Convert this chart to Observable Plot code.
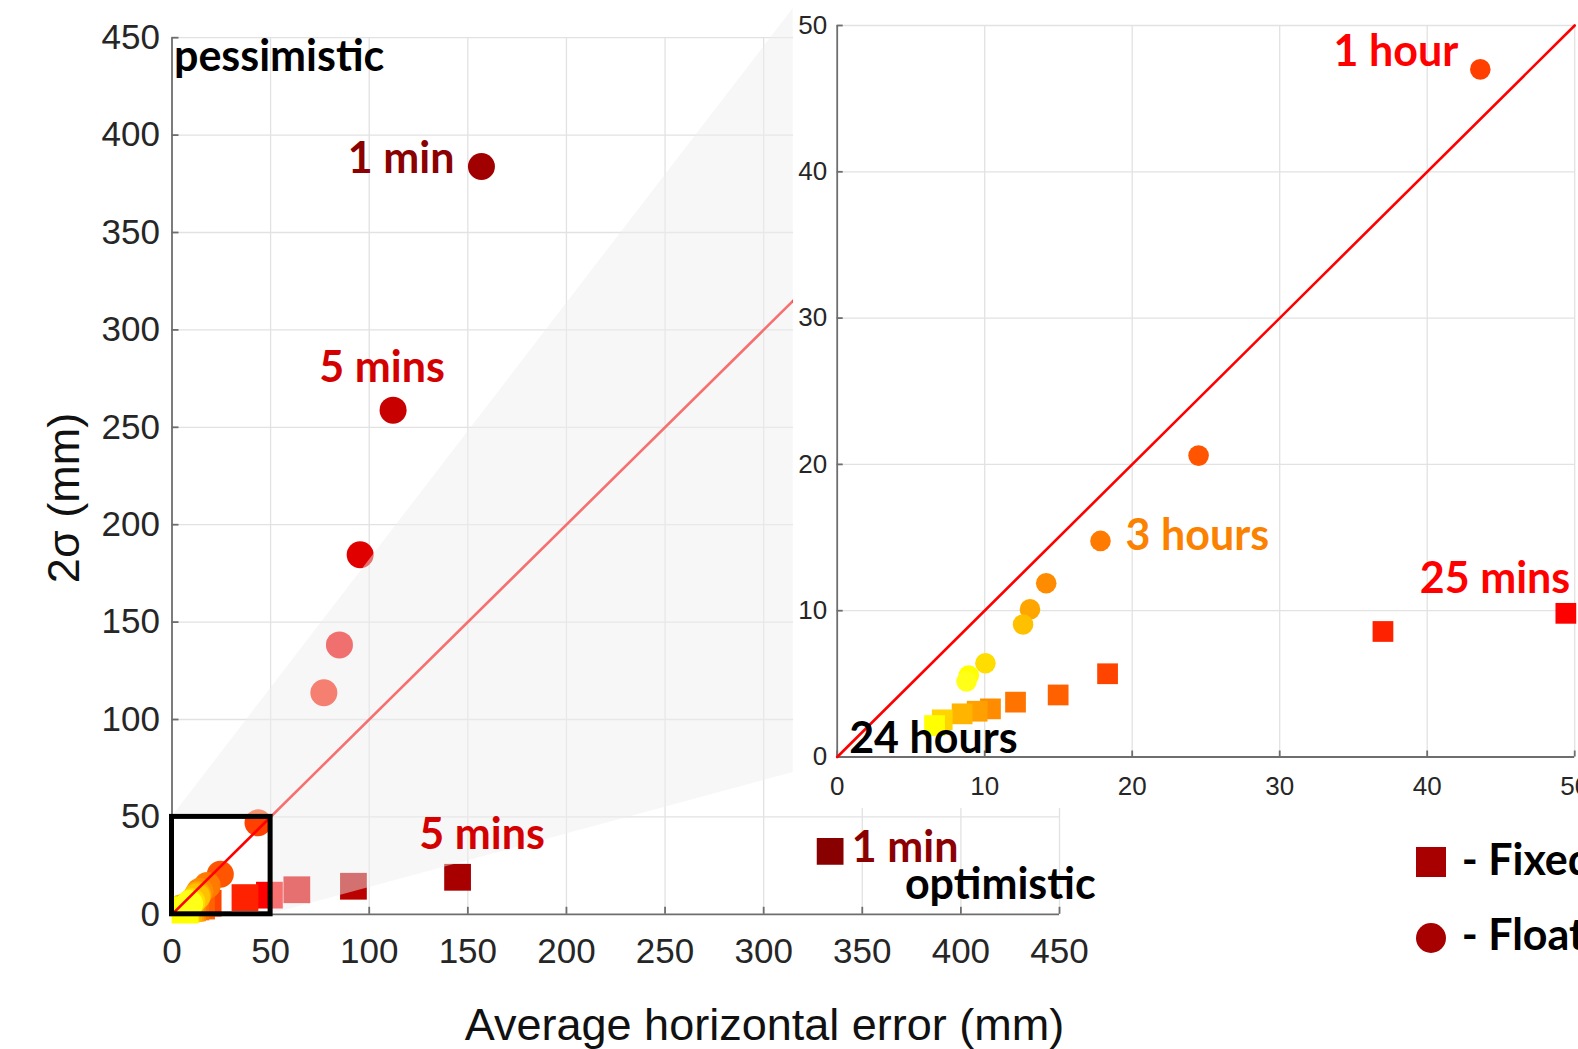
<!DOCTYPE html>
<html>
<head>
<meta charset="utf-8">
<script src="https://cdn.jsdelivr.net/npm/d3@7"></script>
<script src="https://cdn.jsdelivr.net/npm/@observablehq/plot@0.6"></script>
<style>
  html, body { margin: 0; padding: 0; background: #fff; overflow: hidden; }
  #stage { position: relative; width: 1578px; height: 1049px; overflow: hidden; background: #fff; }
  #main, #inset, #overlay { position: absolute; top: 0; }
  #main { left: 0; }
  #inset { left: 793px; }
  #overlay { left: 0; pointer-events: none; }
</style>
</head>
<body>
<div id="stage">
  <div id="main"></div>
  <div id="inset"></div>
  <svg id="overlay" width="1578" height="1049"></svg>
</div>
<script>
// ---------------- data ----------------
// Float solution (circles): average horizontal error (mm), 2σ (mm), colour by interval
const floatX = [156.9, 112.1, 95.4, 84.9, 77.0, 43.6, 24.5, 17.85, 14.17, 13.07, 12.6, 10.05, 8.92, 8.77];
const floatY = [383.9, 258.8, 184.6, 138.3, 113.7, 47.0, 20.6, 14.77, 11.88, 10.09, 9.06, 6.41, 5.57, 5.16];
const floatColor = ["#a00000", "#c80000", "#e00000", "#f10000", "#fb1e00", "#ff4000", "#ff5500", "#ff7a00",
                    "#ff8c00", "#ffa500", "#ffc000", "#ffdd00", "#ffff00", "#ffff18"];
// Fixed solution (squares)
const fixedX = [333.7, 144.8, 92.0, 63.3, 49.4, 37.0, 18.33, 14.98, 12.09, 10.39, 9.49, 8.47, 7.12, 6.6];
const fixedY = [32.3, 19.0, 14.4, 12.6, 9.82, 8.58, 5.69, 4.24, 3.75, 3.29, 3.13, 2.95, 2.54, 2.15];
const fixedColor = ["#880000", "#a80000", "#bb0000", "#df0000", "#ff0000", "#ff2200", "#ff4400", "#ff6000",
                    "#ff7400", "#ff8c00", "#ffa000", "#ffb400", "#ffd400", "#ffff00"];

// axes
const mainDomain = [0, 450];
const mainTicks = [0, 50, 100, 150, 200, 250, 300, 350, 400, 450];
const insetDomain = [0, 50];
const insetTicks = [0, 10, 20, 30, 40, 50];

// annotations (main plot)
const mainLabelText = ["pessimistic", "1 min", "5 mins", "5 mins", "1 min", "optimistic"];
const mainLabelX = [1.0, 143.2, 74.7, 125.4, 344.7, 371.6];
const mainLabelY = [432.9, 380.3, 273.0, 33.6, 26.7, 7.6];
const mainLabelAnchor = ["start", "end", "start", "start", "start", "start"];
const mainLabelColor = ["#000000", "#8b0000", "#d40000", "#d40000", "#8b0000", "#000000"];

// annotations (inset)
const insetLabelText = ["1 hour", "3 hours", "25 mins", "24 hours"];
const insetLabelX = [42.1, 19.55, 39.5, 0.81];
const insetLabelY = [47.24, 14.18, 11.19, 0.25];
const insetLabelAnchor = ["end", "start", "start", "start"];
const insetLabelColor = ["#ff0000", "#fb8200", "#ff0000", "#000000"];

// zoom connector fan (main plot data coordinates)
const fanX = [0, 315, 315, 50, 50];
const fanY = [50, 465, 72.8, 0, 50];

// ---------------- tables ----------------
const floats = floatX.map((x, i) => ({x, y: floatY[i], c: floatColor[i]}));
const fixeds = fixedX.map((x, i) => ({x, y: fixedY[i], c: fixedColor[i]}));
const mainLabels = mainLabelText.map((t, i) => ({t, x: mainLabelX[i], y: mainLabelY[i], a: mainLabelAnchor[i], c: mainLabelColor[i]}));
const insetLabels = insetLabelText.map((t, i) => ({t, x: insetLabelX[i], y: insetLabelY[i], a: insetLabelAnchor[i], c: insetLabelColor[i]}));
const inInset = d => d.x <= insetDomain[1] && d.y <= insetDomain[1];

const GRID = "#e2e2e2";
const AXIS = "#6e6e6e";
const TICKFONT = "Liberation Sans, Arial, sans-serif";
const LABELFONT = "Lato, Noto Sans, sans-serif";

function fanMark(index, scales) {
  const pts = fanX.map((v, i) => `${scales.x(v)},${scales.y(fanY[i])}`).join(" ");
  return d3.create("svg:polygon")
    .attr("points", pts)
    .attr("fill", "#eeeeee")
    .attr("fill-opacity", 0.47)
    .node();
}

function labelMarks(data, fontSize) {
  return ["start", "end"].map(a => Plot.text(data.filter(d => d.a === a), {
    x: "x", y: "y", text: "t", fill: "c", textAnchor: a, lineAnchor: "bottom",
    fontFamily: LABELFONT, fontWeight: "bold", fontSize
  }));
}

// ---------------- main plot ----------------
const main = Plot.plot({
  width: 1578, height: 1049,
  marginLeft: 171.5, marginRight: 519, marginTop: 37.2, marginBottom: 135.2,
  x: {domain: mainDomain},
  y: {domain: mainDomain},
  style: {background: "#fff", overflow: "visible"},
  marks: [
    Plot.gridX(mainTicks.slice(1), {stroke: GRID, strokeOpacity: 1, strokeWidth: 1.3}),
    Plot.gridY(mainTicks.slice(1), {stroke: GRID, strokeOpacity: 1, strokeWidth: 1.3}),
    Plot.ruleX([0], {stroke: AXIS, strokeWidth: 1.8}),
    Plot.ruleY([0], {stroke: AXIS, strokeWidth: 1.8}),
    Plot.ruleX(mainTicks, {x: d => d, y1: 0, y2: 0, insetTop: -7, stroke: AXIS, strokeWidth: 1.8}),
    Plot.ruleY(mainTicks, {y: d => d, x1: 0, x2: 0, insetRight: -7, stroke: AXIS, strokeWidth: 1.8}),
    Plot.axisX(mainTicks, {tickSize: 0, tickPadding: 24, fontSize: 35, fontFamily: TICKFONT, color: "#262626", label: null}),
    Plot.axisY(mainTicks, {tickSize: 0, tickPadding: 12, fontSize: 35, fontFamily: TICKFONT, color: "#262626", label: null}),
    Plot.dot(fixeds, {x: "x", y: "y", fill: "c", symbol: "square", r: 15.1}),
    Plot.dot(floats, {x: "x", y: "y", fill: "c", symbol: "circle", r: 13.5}),
    Plot.line(mainDomain, {x: d => d, y: d => d, stroke: "#ff0000", strokeWidth: 2.6}),
    fanMark,
    Plot.rect([insetDomain], {x1: d => d[0], x2: d => d[1], y1: d => d[0], y2: d => d[1], fill: "none", stroke: "#000", strokeWidth: 5}),
    ...labelMarks(mainLabels, 43)
  ]
});
document.getElementById("main").appendChild(main);

// ---------------- inset ----------------
const inset = Plot.plot({
  width: 785, height: 808,
  marginLeft: 43.7, marginRight: 3.8, marginTop: 25, marginBottom: 51.5,
  x: {domain: insetDomain},
  y: {domain: insetDomain},
  style: {background: "#fff"},
  marks: [
    Plot.gridX(insetTicks.slice(1), {stroke: GRID, strokeOpacity: 1, strokeWidth: 1.3}),
    Plot.gridY(insetTicks.slice(1), {stroke: GRID, strokeOpacity: 1, strokeWidth: 1.3}),
    Plot.ruleX([0], {stroke: AXIS, strokeWidth: 1.8}),
    Plot.ruleY([0], {stroke: AXIS, strokeWidth: 1.8}),
    Plot.ruleX(insetTicks, {x: d => d, y1: 0, y2: 0, insetTop: -6, stroke: AXIS, strokeWidth: 1.8}),
    Plot.ruleY(insetTicks, {y: d => d, x1: 0, x2: 0, insetRight: -6, stroke: AXIS, strokeWidth: 1.8}),
    Plot.axisX(insetTicks, {tickSize: 0, tickPadding: 20, fontSize: 26, fontFamily: TICKFONT, color: "#262626", label: null}),
    Plot.axisY(insetTicks, {tickSize: 0, tickPadding: 10, fontSize: 26, fontFamily: TICKFONT, color: "#262626", label: null}),
    Plot.line(insetDomain, {x: d => d, y: d => d, stroke: "#ff0000", strokeWidth: 2.6}),
    Plot.dot(fixeds.filter(inInset), {x: "x", y: "y", fill: "c", symbol: "square", r: 11.7}),
    Plot.dot(floats.filter(inInset), {x: "x", y: "y", fill: "c", symbol: "circle", r: 10.3}),
    ...labelMarks(insetLabels, 43)
  ]
});
document.getElementById("inset").appendChild(inset);

// ---------------- axis titles & legend ----------------
const ov = d3.select("#overlay");
ov.append("text").attr("x", 764.5).attr("y", 1040).attr("text-anchor", "middle")
  .attr("font-family", TICKFONT).attr("font-size", 45).attr("fill", "#111")
  .text("Average horizontal error (mm)");
ov.append("text").attr("transform", "translate(79,498) rotate(-90)").attr("text-anchor", "middle")
  .attr("font-family", TICKFONT).attr("font-size", 45).attr("fill", "#111")
  .text("2σ (mm)");
const lg = ov.append("g");
lg.append("rect").attr("x", 1416).attr("y", 847).attr("width", 30).attr("height", 30).attr("fill", "#a80000");
lg.append("circle").attr("cx", 1431).attr("cy", 938).attr("r", 15).attr("fill", "#a80000");
lg.append("text").attr("x", 1461.7).attr("y", 875).attr("font-family", LABELFONT).attr("font-weight", "bold")
  .attr("font-size", 43).attr("fill", "#000").text("- Fixed");
lg.append("text").attr("x", 1461.7).attr("y", 950).attr("font-family", LABELFONT).attr("font-weight", "bold")
  .attr("font-size", 43).attr("fill", "#000").text("- Float");
</script>
</body>
</html>
